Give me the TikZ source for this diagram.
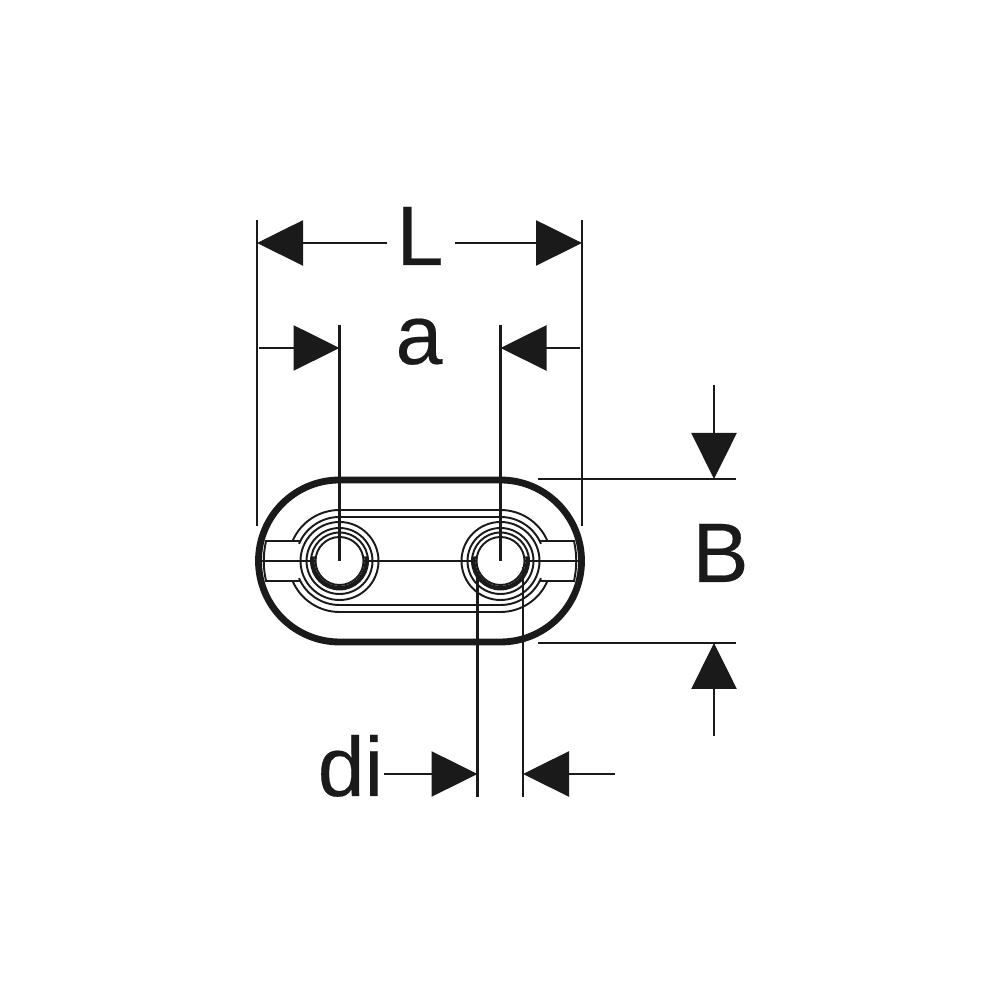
\documentclass[tikz,border=0pt]{standalone}
\usepackage{fontspec}
\setmainfont{Liberation Sans}[FakeBold=0.25]
\usetikzlibrary{arrows.meta}
\definecolor{ink}{HTML}{1A1A1A}
\tikzset{
  dimline/.style={draw=ink, line width=0.72pt},
  dimarrow/.style={dimline, -{Triangle[length=4.6mm,width=4.5mm]}},
  fineline/.style={draw=ink, line width=0.55pt},
  dimlabel/.style={text=ink, anchor=base, inner sep=0pt, font=\fontsize{24}{24}\selectfont}
}
\begin{document}
\begin{tikzpicture}
\useasboundingbox (0,0) rectangle (10,10);
\coordinate (CL) at (3.395,4.39);
\coordinate (CR) at (5.005,4.39);
%outer contour
\draw[ink, line width=1.95pt] (3.395,5.20) -- (5.005,5.20) arc (90:-90:0.81) -- (3.395,3.58) arc (270:90:0.81) -- cycle;
%recess
\foreach \r in {0.51,0.44}{
  \draw[fineline] ([shift={(157:\r)}]CL) arc (157:90:\r) -- ([shift={(90:\r)}]CR) arc (90:23:\r);
  \draw[fineline] ([shift={(203:\r)}]CL) arc (203:270:\r) -- ([shift={(270:\r)}]CR) arc (270:337:\r);
}
%tabs
\draw[fineline] (3.00,4.59) -- (2.66,4.59) .. controls (2.63,4.45) and (2.63,4.33) .. (2.66,4.19) -- (3.00,4.19);
\draw[fineline] (5.40,4.59) -- (5.74,4.59) .. controls (5.77,4.45) and (5.77,4.33) .. (5.74,4.19) -- (5.40,4.19);
%rings
\foreach \c in {CL,CR}{
  \draw[fineline] (\c) circle (0.39);
  \draw[fineline] (\c) circle (0.33);
  \draw[fineline] (\c) circle (0.285);
  \draw[fineline] (\c) circle (0.24);
  \draw[ink, line width=0.85pt] ([shift={(170:0.265)}]\c) arc (170:370:0.265);
}
%center line
\draw[fineline] (2.60,4.39) -- (3.155,4.39);
\draw[fineline] (3.635,4.39) -- (4.765,4.39);
\draw[fineline] (5.245,4.39) -- (5.80,4.39);
%L
\coordinate (Lbot) at (2.57,4.74);
\coordinate (Ltop) at (2.57,7.80);
\coordinate (Rbot) at (5.82,4.74);
\coordinate (Rtop) at (5.82,7.80);
\draw[dimline] (Lbot) -- (Ltop);
\draw[dimline] (Rbot) -- (Rtop);
\node[dimlabel] (labL) at (4.20,7.35) {L};
\coordinate (L1) at (3.87,7.57);
\coordinate (L2) at (4.55,7.57);
\draw[dimarrow] (L1) -- (2.57,7.57);
\draw[dimarrow] (L2) -- (5.82,7.57);
%a
\coordinate (Atop) at (3.395,6.75);
\coordinate (Btop) at (5.005,6.75);
\draw[dimline] (Atop) -- (CL);
\draw[dimline] (Btop) -- (CR);
\node[dimlabel] (laba) at (4.19,6.36) {a};
\draw[dimarrow] (2.59,6.52) -- (3.395,6.52);
\draw[dimarrow] (5.80,6.52) -- (5.005,6.52);
%B
\coordinate (Bup) at (7.36,5.21);
\coordinate (Bdn) at (7.36,3.57);
\draw[dimline] (5.38,5.21) -- (Bup);
\draw[dimline] (5.38,3.57) -- (Bdn);
\node[dimlabel] (labB) at (7.205,4.18) {B};
\draw[dimarrow] (7.14,6.15) -- (7.14,5.21);
\draw[dimarrow] (7.14,2.64) -- (7.14,3.57);
%di
\draw[dimline] (4.775,4.28) -- (4.775,2.03);
\draw[dimline] (5.23,4.33) -- (5.23,2.03);
\node[dimlabel] (labdi) at (3.505,2.04) {di};
\draw[dimarrow] (3.84,2.26) -- (4.775,2.26);
\draw[dimarrow] (6.15,2.26) -- (5.23,2.26);
\end{tikzpicture}
\end{document}
